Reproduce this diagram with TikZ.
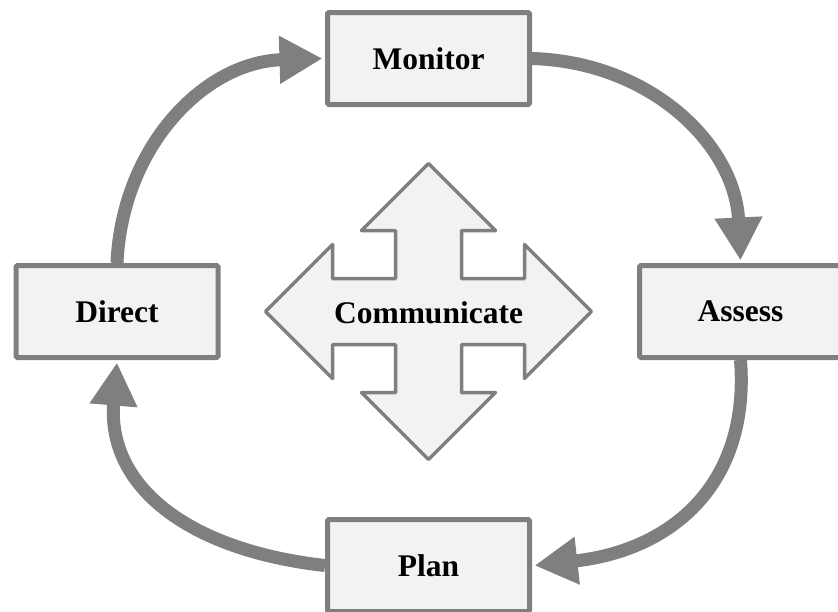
\documentclass[tikz,border=0pt]{standalone}
\usepackage{fontspec}
\setmainfont{Liberation Serif}
\usetikzlibrary{arrows.meta}
\definecolor{edgegray}{HTML}{7F7F7F}
\definecolor{boxfill}{HTML}{F2F2F2}
\begin{document}
\begin{tikzpicture}[x=1pt,y=-1pt,
  stagebox/.style={draw=edgegray, fill=boxfill, line width=5pt, rounded corners=1.5pt,
    minimum width=202pt, minimum height=92pt, inner sep=0pt,
    font=\fontsize{31.5}{36}\selectfont\bfseries},
  cycarrow/.style={draw=edgegray, line width=13pt,
    -{Triangle[length=43pt,width=45pt]}},
  crossshape/.style={draw=edgegray, fill=boxfill, line width=3.5pt, line join=round},
  crosslabel/.style={inner sep=0pt, font=\fontsize{31.5}{36}\selectfont\bfseries}]
\useasboundingbox (0,0) rectangle (838,611);
\clip (0,0) rectangle (838,611);
\fill[white] (0,0) rectangle (838,611);

% central four-way arrow
\begin{scope}[shift={(428.5,311.5)}]
\draw[crossshape] (0,-148) -- (67,-81) -- (33,-81) -- (33,-33) -- (96,-33) -- (96,-67)
  -- (163,0) -- (96,67) -- (96,33) -- (33,33) -- (33,81) -- (67,81) -- (0,148)
  -- (-67,81) -- (-33,81) -- (-33,33) -- (-96,33) -- (-96,67) -- (-163,0)
  -- (-96,-67) -- (-96,-33) -- (-33,-33) -- (-33,-81) -- (-67,-81) -- cycle;
\end{scope}
\node[crosslabel] (comm) at (428.5,313) {Communicate};

% stage boxes
\node[stagebox] (mon) at (428.5,58.5) {Monitor};
\node[stagebox] (dir) at (117,311.5) {Direct};
\node[stagebox] (ass) at (740.5,311.5) {Assess};
\node[stagebox] (plan) at (428.5,565.5) {Plan};

% cycle arrows
\draw[cycarrow] (mon.east) .. controls +(119,3.5) and +(-5.5,-115.5) .. ([yshift=2.5pt]ass.north);
\draw[cycarrow] (ass.south) .. controls +(9.5,122.5) and +(139,-15.5) .. ([xshift=2.5pt]plan.east);
\draw[cycarrow] (plan.west) .. controls +(-139,-15.5) and +(-10,122.5) .. ([yshift=-2.5pt]dir.south);
\draw[cycarrow] (dir.north) .. controls +(5,-115.5) and +(-119,3.5) .. ([xshift=-2.5pt]mon.west);
\end{tikzpicture}
\end{document}
